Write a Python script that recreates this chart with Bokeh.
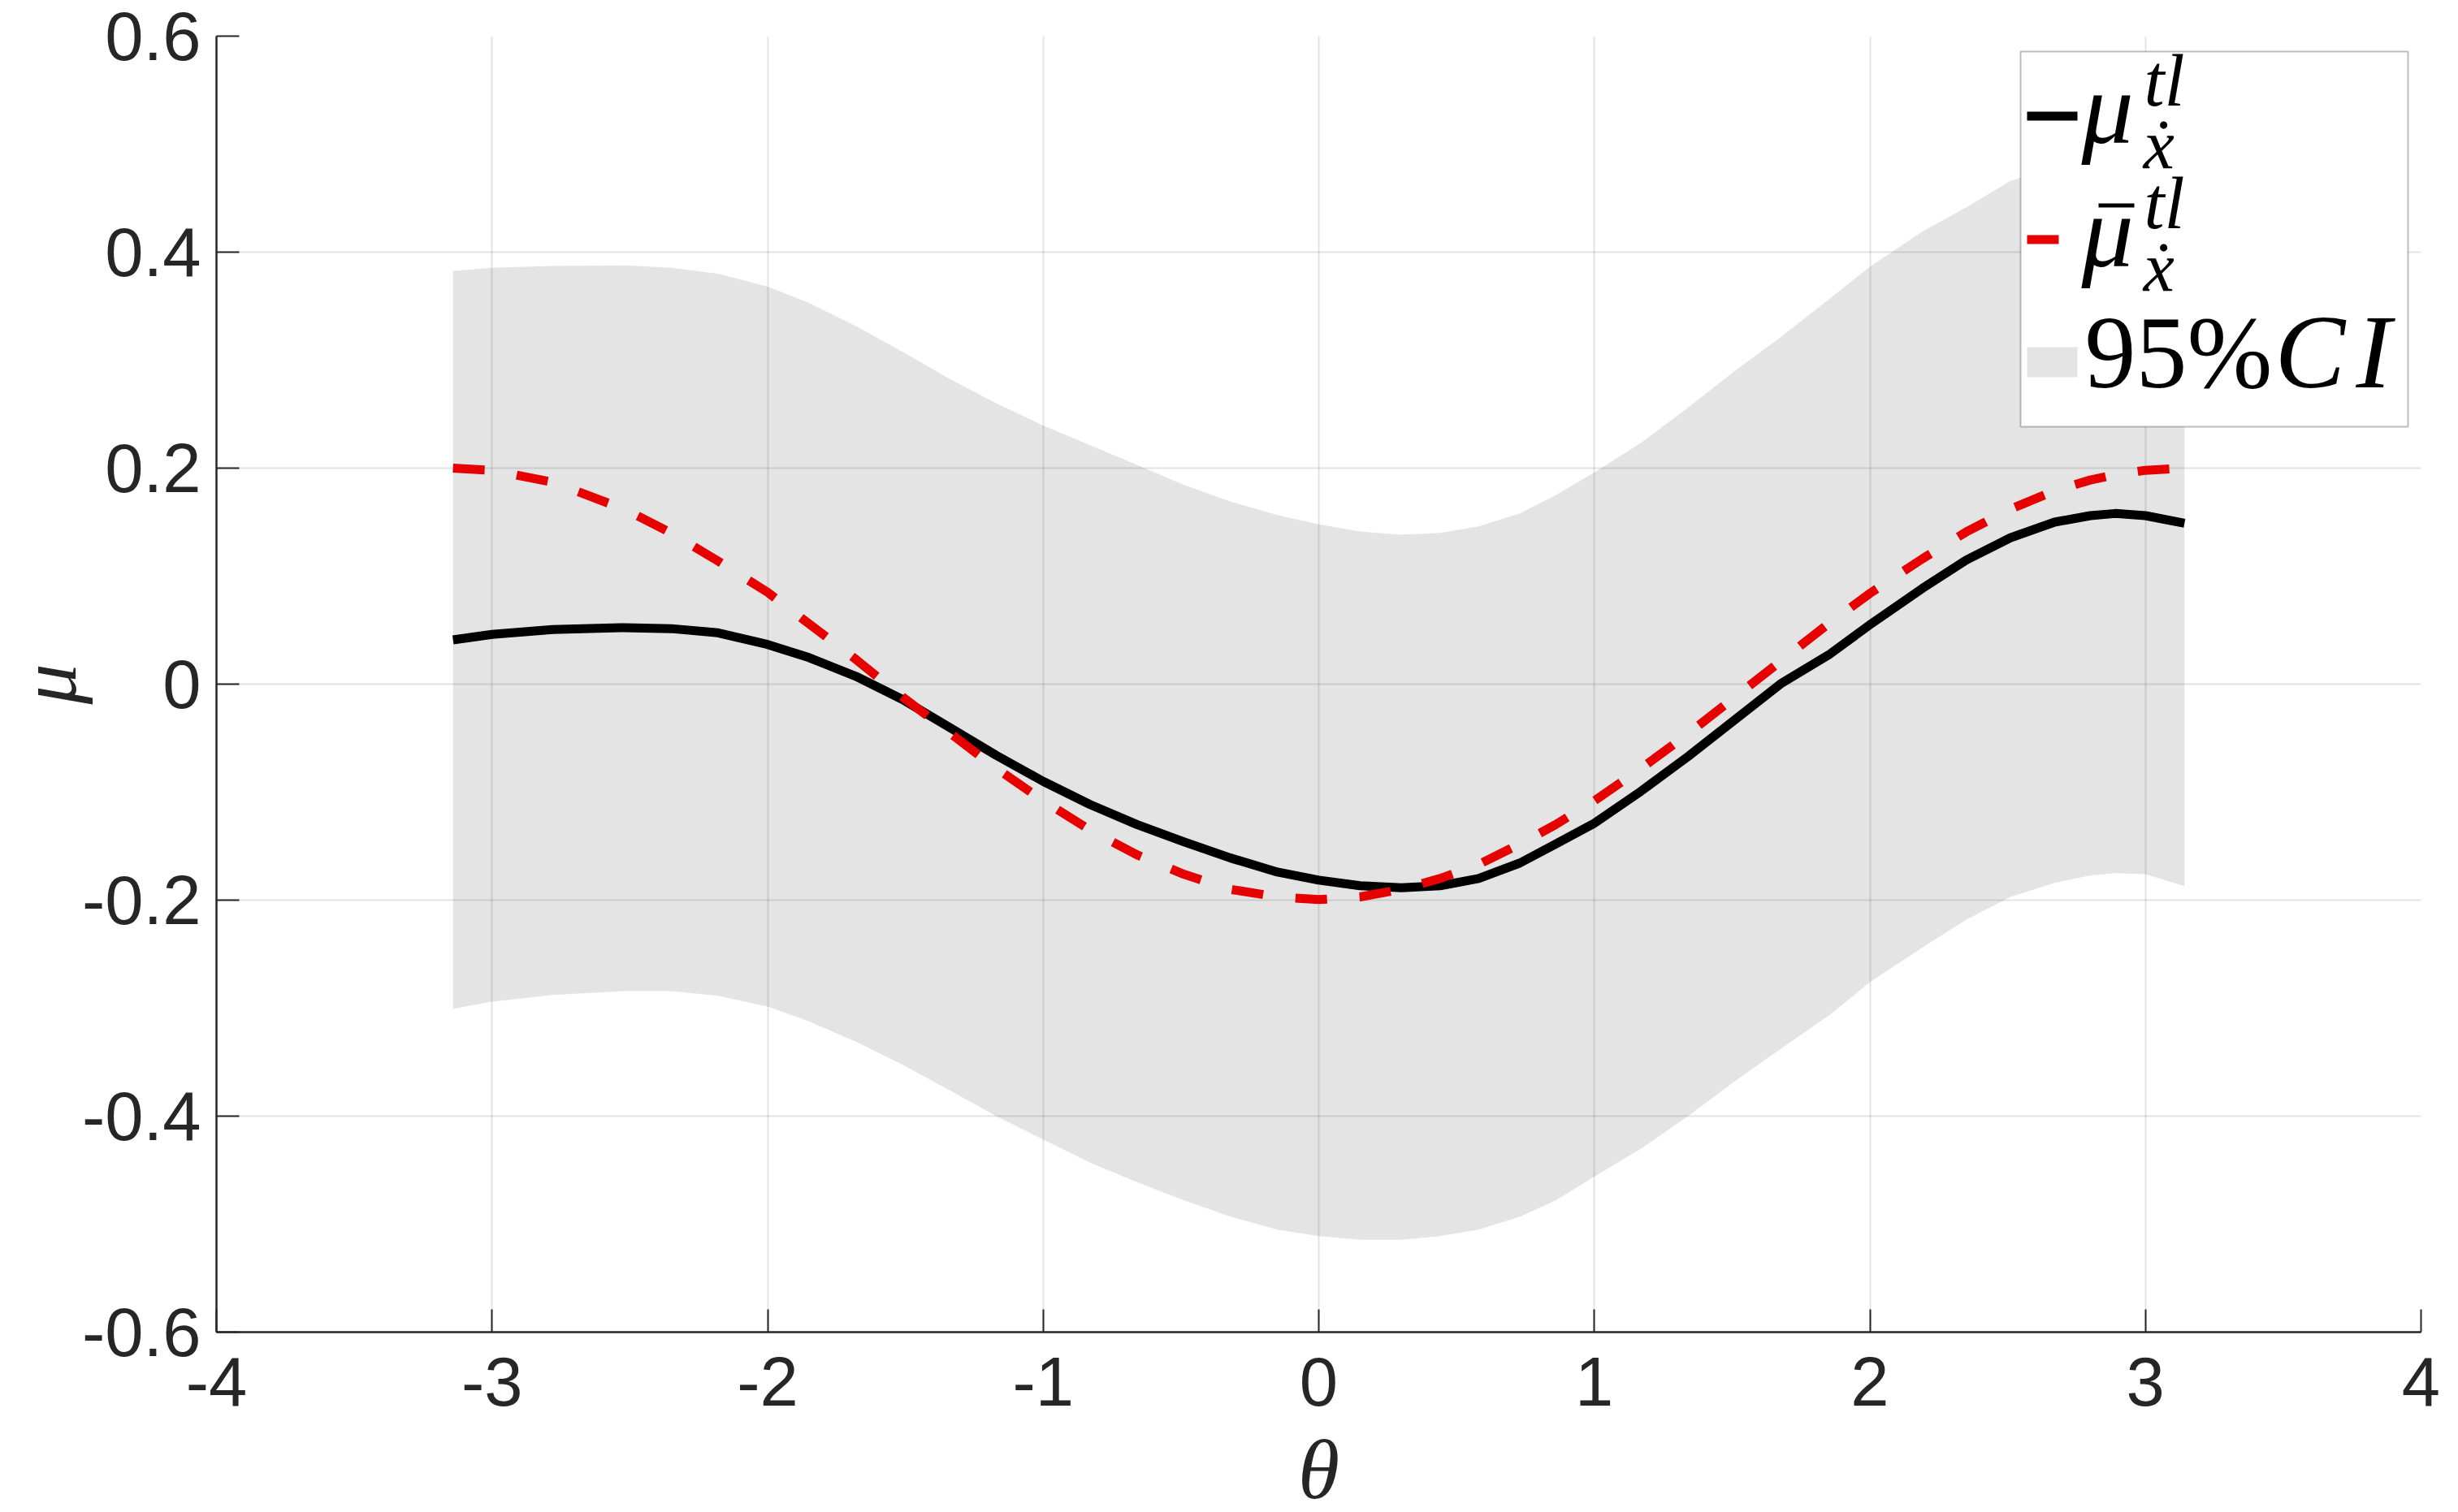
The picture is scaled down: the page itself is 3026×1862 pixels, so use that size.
from bokeh.plotting import figure
from bokeh.models import FixedTicker, BoxAnnotation, Label, Range1d
from bokeh.embed import file_html
from bokeh.resources import INLINE

# ---- data ----
theta = [-3.1416, -3.0, -2.78, -2.52, -2.35, -2.18, -2.0, -1.85, -1.68, -1.51, -1.34, -1.17, -1.0,
         -0.83, -0.66, -0.49, -0.32, -0.15, 0.0, 0.15, 0.3, 0.44, 0.58, 0.73, 0.86, 1.0, 1.17,
         1.34, 1.51, 1.68, 1.85, 2.0, 2.19, 2.35, 2.51, 2.67, 2.8, 2.89, 3.0, 3.1416]
mu = [0.041, 0.046, 0.0506, 0.0523, 0.0514, 0.0475, 0.0367, 0.0246, 0.0073, -0.0143, -0.040, -0.066, -0.090,
      -0.1115, -0.130, -0.146, -0.161, -0.174, -0.1815, -0.1867, -0.1885, -0.1867, -0.180, -0.1656, -0.148,
      -0.1288, -0.099, -0.067, -0.033, 0.001, 0.027, 0.055, 0.0886, 0.115, 0.1355, 0.150, 0.156, 0.158,
      0.156, 0.149]
mu_bar = [0.200, 0.198, 0.187, 0.162, 0.140, 0.114, 0.085, 0.056, 0.023, -0.012, -0.045, -0.078, -0.108,
          -0.135, -0.158, -0.176, -0.190, -0.197, -0.1995, -0.197, -0.190, -0.180, -0.167, -0.148, -0.130,
          -0.108, -0.078, -0.046, -0.012, 0.022, 0.056, 0.084, 0.116, 0.141, 0.162, 0.179, 0.189, 0.194,
          0.198, 0.200]
ci_upper = [0.3825, 0.3856, 0.3873, 0.3877, 0.3856, 0.380, 0.368, 0.353, 0.3315, 0.3078, 0.2827, 0.260,
            0.2395, 0.2213, 0.203, 0.1846, 0.169, 0.1565, 0.148, 0.1413, 0.1383, 0.140, 0.146, 0.158, 0.175,
            0.196, 0.2235, 0.256, 0.290, 0.322, 0.356, 0.3865, 0.419, 0.4416, 0.466, 0.478, 0.486, 0.490,
            0.494, 0.497]
ci_lower = [-0.3006, -0.294, -0.2877, -0.2842, -0.2842, -0.2886, -0.2985, -0.3123, -0.331, -0.3525, -0.376,
            -0.400, -0.4216, -0.443, -0.461, -0.4778, -0.493, -0.505, -0.511, -0.5145, -0.5145, -0.511,
            -0.505, -0.493, -0.478, -0.456, -0.430, -0.400, -0.3676, -0.337, -0.307, -0.276, -0.244, -0.218,
            -0.197, -0.184, -0.177, -0.175, -0.176, -0.187]

x_ticks = [-4, -3, -2, -1, 0, 1, 2, 3, 4]
x_tick_labels = ["-4", "-3", "-2", "-1", "0", "1", "2", "3", "4"]
y_ticks = [-0.6, -0.4, -0.2, 0, 0.2, 0.4, 0.6]
y_tick_labels = ["-0.6", "-0.4", "-0.2", "0", "0.2", "0.4", "0.6"]

# ---- figure ----
FL, FT = 266, 44
FW, FH = 2714, 1596
p = figure(output_backend="svg", toolbar_location=None,
           frame_width=FW, frame_height=FH,
           x_range=Range1d(-4, 4), y_range=Range1d(-0.6, 0.6),
           min_border_left=FL, min_border_top=FT, min_border_right=46, min_border_bottom=222,
           background_fill_color="white", border_fill_color="white")
p.outline_line_color = None

AX = "#262626"
for ax in (p.xaxis[0], p.yaxis[0]):
    ax.axis_line_color = AX
    ax.axis_line_width = 2.5
    ax.major_tick_line_color = AX
    ax.major_tick_line_width = 2
    ax.major_tick_in = 28
    ax.major_tick_out = 0
    ax.minor_tick_line_color = None
    ax.major_label_text_font = "Liberation Sans"
    ax.major_label_text_font_size = "85px"
    ax.major_label_text_color = AX
    ax.axis_label_text_font = "Liberation Serif"
    ax.axis_label_text_font_style = "italic"
    ax.axis_label_text_color = AX

p.xaxis.ticker = FixedTicker(ticks=x_ticks)
p.yaxis.ticker = FixedTicker(ticks=y_ticks)
p.xaxis.major_label_overrides = dict(zip(x_ticks, x_tick_labels))
p.yaxis.major_label_overrides = dict(zip(y_ticks, y_tick_labels))
p.xaxis.major_label_standoff = 31
p.yaxis.major_label_standoff = 19

p.yaxis.axis_label = "μ"
p.yaxis.axis_label_text_font_size = "100px"
p.yaxis.axis_label_standoff = -17
p.xaxis.axis_label = "θ"
p.xaxis.axis_label_text_font_size = "104px"
p.xaxis.axis_label_standoff = 18

p.xgrid.ticker = FixedTicker(ticks=x_ticks)
p.ygrid.ticker = FixedTicker(ticks=y_ticks)
for g in (p.xgrid[0], p.ygrid[0]):
    g.grid_line_color = AX
    g.grid_line_alpha = 0.13
    g.grid_line_width = 2

band = p.varea(x=theta, y1=ci_lower, y2=ci_upper, fill_color="#e4e4e4")
band.level = "image"
p.line(theta, mu, line_color="black", line_width=11, line_join="round")
p.line(theta, mu_bar, line_color="#e60000", line_width=11, line_dash="39 40")

# ---- helpers to place the legend at reference-pixel positions ----
def xd(X):
    return -4 + (X - FL) / FW * 8
def yd(Y):
    return 0.6 - (Y - FT) / FH * 1.2

def lab(text, X, Y, size, style="italic", align="left", color="black"):
    # Y is the wanted baseline; compensate the renderer's baseline offset
    Yc = Y - 0.34 * size
    p.add_layout(Label(x=xd(X), y=yd(Yc), text=text, text_font="Liberation Serif",
                       text_font_style=style, text_font_size=f"{size}px", text_color=color,
                       text_align=align, text_baseline="alphabetic"))

def box(l, r, t, b, color, line=None, lw=0):
    p.add_layout(BoxAnnotation(left=xd(l), right=xd(r), top=yd(t), bottom=yd(b),
                               fill_color=color, fill_alpha=1, line_color=line, line_width=lw))

box(2487, 2964, 63, 525, "white", line="#262626", lw=2)
box(2495, 2557, 137, 148, "black")
box(2495, 2534, 289, 300, "#e60000")
box(2495, 2557, 427, 464, "#e4e4e4")
box(2583, 2627, 250, 255, "black")   # macron over the second mu

lab("μ", 2562, 176, 128)
lab("tl", 2639, 130, 90)
lab("ẋ", 2638, 207, 86)
lab("μ", 2562, 328, 128)
lab("tl", 2639, 281, 90)
lab("ẋ", 2638, 358, 86)
lab("95%", 2566, 477, 126, style="normal")
lab("C", 2800, 477, 130)
lab("I", 2900, 477, 130)

open("out.html", "w").write(file_html(p, INLINE))
